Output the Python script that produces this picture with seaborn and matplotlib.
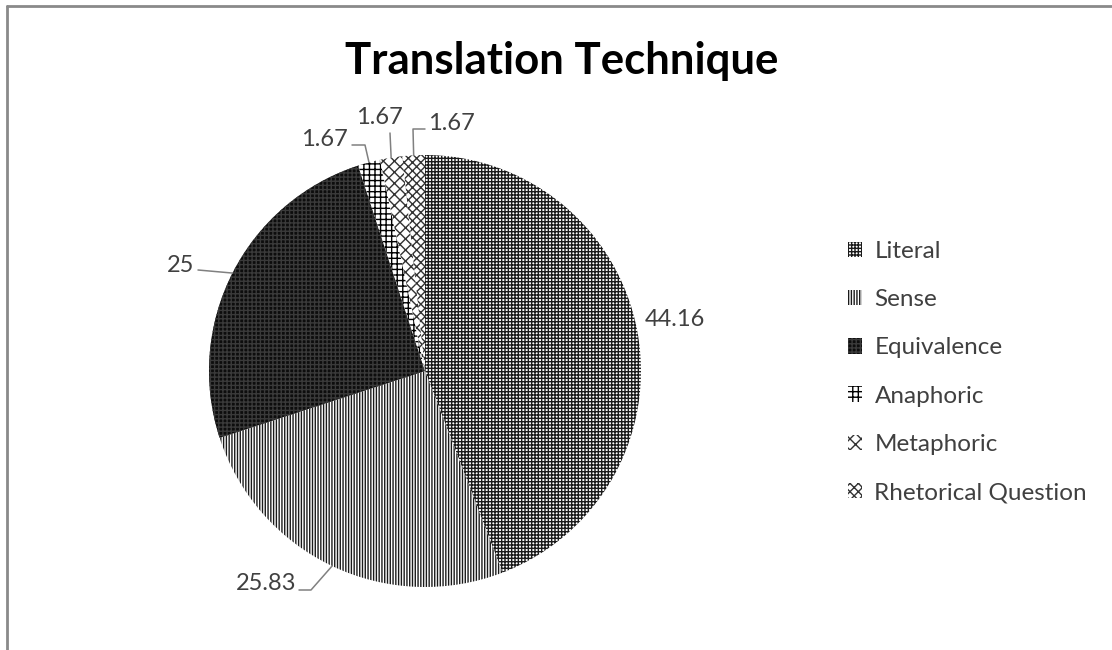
import numpy as np
import matplotlib
matplotlib.use("Agg")
import matplotlib.pyplot as plt
import seaborn as sns
from matplotlib.lines import Line2D

categories = ["Literal", "Sense", "Equivalence", "Anaphoric", "Metaphoric", "Rhetorical Question"]
values = [44.16, 25.83, 25, 1.67, 1.67, 1.67]
value_labels = ["44.16", "25.83", "25", "1.67", "1.67", "1.67"]
title = "Translation Technique"

sns.set_theme(style="white")
plt.rcParams['font.family'] = ['Lato', 'DejaVu Sans']
plt.rcParams['hatch.linewidth'] = 1.0

W, H = 1112, 650
fig = plt.figure(figsize=(W / 100, H / 100), dpi=100)
fig.patch.set_facecolor('white')
cx, cy, R = 425, 371, 216
ax = fig.add_axes([(cx - R) / W, (H - cy - R) / H, 2 * R / W, 2 * R / H])
wedges, _ = ax.pie(values, startangle=90, counterclock=False, radius=1,
                   wedgeprops=dict(linewidth=0))
ax.set_xlim(-1, 1)
ax.set_ylim(-1, 1)
ax.set_aspect('equal')
ax.axis('off')

styles = [
    dict(fc='white', ec='#1a1a1a', hatch='+++++'),
    dict(fc='white', ec='#1a1a1a', hatch='||||||'),
    dict(fc='#0d0d0d', ec='#3a3a3a', hatch='++++'),
    dict(fc='white', ec='black', hatch='+++'),
    dict(fc='white', ec='#333333', hatch='xxx'),
    dict(fc='white', ec='#333333', hatch='xxxx'),
]
for w, s in zip(wedges, styles):
    w.set_facecolor(s['fc'])
    w.set_edgecolor(s['ec'])
    w.set_hatch(s['hatch'])
    w.set_linewidth(0)


def px2d(p):
    return ((p[0] - cx) / R, (cy - p[1]) / R)


label_layout = [
    dict(text=(675, 320), ha='center', path=[]),
    dict(text=(296, 583), ha='right', path=[(311, 590), (299, 590)]),
    dict(text=(194, 266), ha='right', path=[(198, 270)]),
    dict(text=(348, 139), ha='right', path=[(365, 145), (352, 145)]),
    dict(text=(379, 118), ha='center', path=[(390, 133)]),
    dict(text=(428, 124), ha='left', path=[(413, 129), (425, 129)]),
]

for w, lab, lay in zip(wedges, value_labels, label_layout):
    tx, ty = px2d(lay['text'])
    ax.text(tx, ty, lab, ha=lay['ha'], va='center', fontsize=17,
            color='#404040', clip_on=False)
    if lay['path']:
        ang = np.deg2rad((w.theta1 + w.theta2) / 2)
        pts = [(np.cos(ang), np.sin(ang))] + [px2d(p) for p in lay['path']]
        xs, ys = zip(*pts)
        ax.plot(xs, ys, color='#808080', lw=1.1, clip_on=False)

fig.text(562 / W, 1 - 61 / H, title, ha='center', va='center', fontsize=31.5,
         fontweight='bold', color='black')

fig.legend(wedges, categories, loc='center left',
           bbox_to_anchor=(838 / W, 1 - 372 / H), frameon=False, fontsize=17.5,
           labelspacing=1.12, handlelength=0.6, handleheight=0.6,
           handletextpad=0.5, labelcolor='#404040', borderaxespad=0)

fig.add_artist(Line2D([7 / W, 1], [1 - 6 / H, 1 - 6 / H], color='#8a8a8a', lw=2,
                      transform=fig.transFigure))
fig.add_artist(Line2D([7 / W, 7 / W], [0, 1 - 6 / H], color='#8a8a8a', lw=2,
                      transform=fig.transFigure))

fig.savefig("out.png", dpi=100, facecolor='white')
